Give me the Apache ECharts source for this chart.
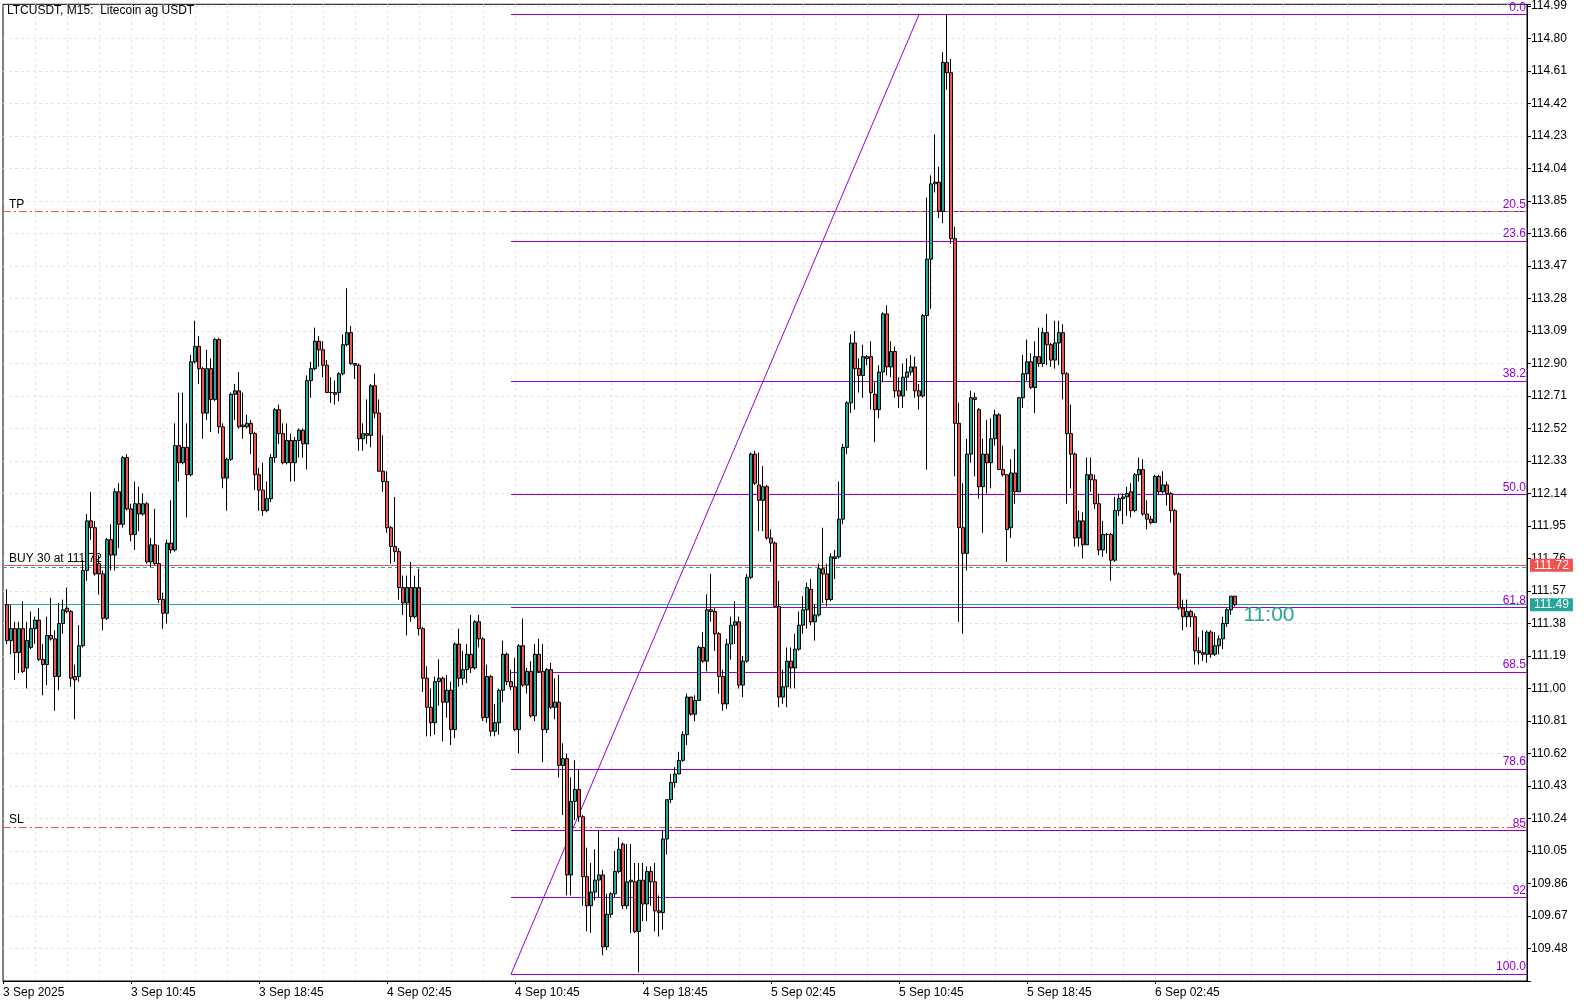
<!DOCTYPE html>
<html><head><meta charset="utf-8">
<script src="https://cdn.jsdelivr.net/npm/echarts@6/dist/echarts.min.js"></script>
<style>html,body{margin:0;padding:0;background:#fff}#c{width:1590px;height:1005px}</style>
</head><body><div id="c"></div>
<script>
// ---------------- data ----------------
const chartTitle = 'LTCUSDT, M15:  Litecoin ag USDT';

// 15-minute slots; slot 0 = 3 Sep 2025 02:45, first drawn candle in slot 1
const firstCandleSlot = 1;
const slotCount = 382;

// candles: [open, close, low, high]
const candles = [
[111.49,111.28,111.26,111.58],[111.28,111.35,111.20,111.49],[111.35,111.21,111.05,111.39],[111.21,111.35,111.09,111.39],
[111.35,111.10,111.09,111.51],[111.12,111.28,111.00,111.39],[111.24,111.35,111.23,111.45],[111.35,111.40,111.26,111.42],
[111.40,111.17,111.16,111.47],[111.17,111.14,110.96,111.26],[111.14,111.31,111.02,111.42],[111.31,111.29,111.28,111.53],
[111.29,111.07,110.87,111.34],[111.07,111.38,110.99,111.50],[111.38,111.46,111.32,111.52],[111.47,111.45,111.44,111.59],
[111.45,111.06,111.01,111.46],[111.07,111.05,110.82,111.14],[111.07,111.25,111.04,111.37],[111.25,111.69,111.24,111.75],
[111.69,111.98,111.63,112.02],[111.98,111.94,111.87,112.15],[111.94,111.67,111.66,111.98],[111.73,111.67,111.55,111.78],
[111.67,111.41,111.34,111.69],[111.41,111.87,111.40,111.88],[111.87,111.78,111.69,111.96],[111.78,112.15,111.69,112.17],
[112.15,111.96,111.82,112.20],[111.96,112.35,111.94,112.36],[112.35,112.05,112.04,112.37],[112.05,111.90,111.86,112.08],
[111.90,112.08,111.81,112.21],[112.08,112.02,111.92,112.18],[112.02,112.08,112.01,112.14],[112.08,111.74,111.73,112.09],
[111.74,111.84,111.71,111.88],[111.84,111.73,111.72,112.05],[111.73,111.52,111.50,111.84],[111.52,111.44,111.35,111.56],
[111.44,111.85,111.38,111.87],[111.85,111.81,111.79,112.10],[111.81,112.42,111.80,112.55],[112.42,112.32,112.21,112.73],
[112.32,112.41,112.31,112.73],[112.41,112.25,112.00,112.55],[112.25,112.91,112.24,112.95],[112.91,113.00,112.90,113.15],
[113.00,112.87,112.78,113.06],[112.87,112.61,112.46,112.88],[112.61,112.87,112.57,112.98],[112.87,112.69,112.50,112.93],
[112.69,113.04,112.68,113.05],[113.04,112.53,112.49,113.05],[112.53,112.23,112.17,112.55],[112.23,112.34,112.04,112.35],
[112.34,112.72,112.33,112.73],[112.72,112.74,112.57,112.78],[112.74,112.53,112.52,112.85],[112.54,112.53,112.46,112.73],
[112.53,112.55,112.52,112.60],[112.55,112.49,112.37,112.57],[112.49,112.25,112.16,112.50],[112.25,112.16,112.04,112.29],
[112.16,112.04,112.01,112.32],[112.04,112.11,112.03,112.21],[112.11,112.35,112.09,112.37],[112.35,112.63,112.32,112.64],
[112.63,112.49,112.43,112.66],[112.49,112.32,112.31,112.55],[112.32,112.45,112.31,112.55],[112.45,112.32,112.21,112.49],
[112.32,112.45,112.21,112.47],[112.45,112.51,112.35,112.52],[112.51,112.43,112.35,112.52],[112.43,112.80,112.28,112.83],
[112.80,112.87,112.70,112.91],[112.87,113.03,112.86,113.11],[113.03,112.98,112.88,113.06],[112.98,112.89,112.82,113.03],
[112.89,112.73,112.73,112.92],[112.73,112.73,112.67,112.82],[112.73,112.72,112.66,112.80],[112.73,112.84,112.68,112.85],
[112.84,113.01,112.83,113.07],[113.01,113.08,113.00,113.34],[113.08,112.90,112.89,113.12],[112.90,112.89,112.81,112.90],
[112.89,112.46,112.39,112.90],[112.46,112.49,112.39,112.55],[112.49,112.48,112.43,112.69],[112.48,112.77,112.41,112.78],
[112.77,112.61,112.58,112.84],[112.61,112.27,112.27,112.69],[112.27,112.21,112.15,112.48],[112.21,111.94,111.91,112.27],
[111.94,111.83,111.73,111.95],[111.83,111.80,111.74,112.12],[111.80,111.59,111.52,111.82],[111.59,111.50,111.43,111.66],
[111.50,111.59,111.31,111.66],[111.59,111.42,111.39,111.74],[111.42,111.59,111.41,111.66],[111.59,111.35,111.31,111.70],
[111.35,111.06,110.98,111.36],[111.06,110.89,110.72,111.13],[110.89,110.80,110.72,111.00],[110.80,111.04,110.73,111.07],
[111.04,111.06,110.90,111.17],[111.06,110.92,110.69,111.07],[110.92,110.99,110.83,111.08],[110.99,110.76,110.67,111.04],
[110.76,111.26,110.71,111.27],[111.26,111.06,111.01,111.35],[111.06,111.11,111.02,111.22],[111.11,111.20,111.03,111.26],
[111.20,111.12,111.09,111.43],[111.12,111.39,111.11,111.40],[111.39,111.29,111.24,111.43],[111.29,110.83,110.81,111.30],
[110.83,111.07,110.80,111.14],[111.07,110.75,110.72,111.08],[110.75,110.80,110.72,110.91],[110.80,110.99,110.73,111.00],
[110.99,111.20,110.92,111.28],[111.20,111.04,111.02,111.21],[111.04,111.01,110.99,111.11],[111.01,110.76,110.75,111.18],
[110.76,111.25,110.62,111.26],[111.25,111.02,111.01,111.41],[111.02,111.10,110.97,111.12],[111.10,110.84,110.83,111.16],
[110.84,111.20,110.81,111.26],[111.20,111.10,111.09,111.29],[111.10,110.76,110.57,111.26],[110.76,111.11,110.74,111.12],
[111.11,110.89,110.88,111.15],[110.89,110.92,110.82,111.06],[110.92,110.55,110.48,111.08],[110.55,110.59,110.26,110.68],
[110.59,109.91,109.79,110.62],[109.91,110.34,109.79,110.48],[110.34,110.41,110.23,110.58],[110.41,110.25,110.22,110.53],
[110.25,109.90,109.73,110.26],[109.90,109.73,109.58,110.07],[109.73,109.81,109.57,109.98],[109.81,109.88,109.76,110.06],
[109.88,109.91,109.78,110.17],[109.91,109.49,109.44,109.94],[109.49,109.68,109.47,109.80],[109.68,109.80,109.66,109.81],
[109.80,109.93,109.78,110.05],[109.93,110.06,109.92,110.13],[110.09,109.73,109.71,110.10],[109.73,109.87,109.71,110.09],
[109.88,109.87,109.57,110.09],[109.87,109.58,109.57,109.98],[109.58,109.88,109.34,109.98],[109.88,109.74,109.64,109.98],
[109.74,109.93,109.64,109.96],[109.93,109.87,109.73,109.96],[109.87,109.70,109.58,109.98],[109.70,109.69,109.55,109.79],
[109.69,110.12,109.59,110.17],[110.12,110.35,110.03,110.35],[110.35,110.45,110.33,110.50],[110.45,110.50,110.42,110.54],
[110.50,110.58,110.50,110.63],[110.58,110.73,110.57,110.75],[110.73,110.95,110.67,110.97],[110.95,110.85,110.84,110.95],
[110.85,110.93,110.81,110.96],[110.93,111.24,110.93,111.25],[111.24,111.16,111.15,111.33],[111.16,111.46,111.10,111.55],
[111.46,111.45,111.39,111.67],[111.45,111.32,111.22,111.47],[111.32,111.07,110.97,111.33],[111.07,110.91,110.87,111.11],
[110.91,111.26,110.88,111.29],[111.26,111.37,111.17,111.42],[111.37,111.39,111.26,111.51],[111.39,111.02,111.00,111.42],
[111.02,111.16,110.95,111.19],[111.16,111.65,111.15,111.67],[111.65,112.37,111.64,112.38],[112.37,112.20,112.19,112.39],
[112.19,112.10,111.92,112.38],[112.10,112.18,111.92,112.30],[112.18,111.88,111.87,112.19],[111.88,111.85,111.74,111.93],
[111.85,111.48,111.47,111.86],[111.48,110.95,110.89,111.63],[110.95,111.01,110.91,111.11],[111.01,111.16,110.89,111.24],
[111.16,111.12,111.00,111.24],[111.12,111.23,111.00,111.32],[111.23,111.37,111.22,111.45],[111.37,111.46,111.32,111.54],
[111.46,111.59,111.35,111.62],[111.58,111.39,111.37,111.64],[111.39,111.43,111.28,111.49],[111.43,111.70,111.42,111.73],
[111.70,111.67,111.50,111.94],[111.67,111.52,111.48,111.73],[111.52,111.77,111.51,111.79],[111.76,111.77,111.64,111.81],
[111.77,111.99,111.76,112.21],[111.99,112.41,111.96,112.43],[112.41,112.67,112.37,112.68],[112.67,113.02,112.61,113.07],
[113.02,112.87,112.63,113.09],[112.87,112.83,112.73,112.93],[112.83,112.94,112.70,113.01],[112.94,112.93,112.89,112.95],
[112.94,112.73,112.63,113.03],[112.72,112.63,112.44,112.79],[112.63,112.85,112.58,112.89],[112.85,113.19,112.79,113.20],
[113.19,112.88,112.83,113.24],[112.88,112.97,112.82,113.03],[112.97,112.74,112.70,113.00],[112.74,112.71,112.64,112.82],
[112.71,112.82,112.64,112.90],[112.82,112.85,112.74,112.93],[112.85,112.88,112.83,112.95],[112.88,112.74,112.70,112.94],
[112.74,112.71,112.63,112.78],[112.71,113.18,112.70,113.19],[113.18,113.51,112.28,113.87],[113.51,113.95,113.22,114.00],
[113.95,113.96,113.90,114.24],[113.96,113.79,113.75,114.05],[113.79,114.66,113.72,114.72],[114.66,114.60,114.50,114.94],
[114.60,113.63,113.60,114.68],[113.63,112.55,112.24,113.70],[112.55,111.94,111.39,112.67],[111.94,111.79,111.32,112.20],
[111.79,112.37,111.69,112.46],[112.37,112.70,112.32,112.74],[112.70,112.69,112.24,112.73],[112.63,112.18,112.11,112.64],
[112.18,112.37,111.91,112.46],[112.37,112.32,112.14,112.57],[112.32,112.46,112.17,112.58],[112.46,112.60,112.42,112.63],
[112.60,112.28,112.28,112.61],[112.28,112.25,112.24,112.42],[112.25,111.93,111.74,112.25],[111.94,112.26,111.88,112.34],
[112.26,112.15,112.08,112.40],[112.15,112.70,112.15,112.70],[112.70,112.84,112.64,112.95],[112.84,112.91,112.80,113.04],
[112.91,112.76,112.75,112.96],[112.76,112.94,112.61,113.03],[112.94,112.90,112.88,113.11],[112.90,113.08,112.88,113.11],
[113.08,113.01,112.89,113.19],[113.01,112.92,112.88,113.02],[112.92,113.02,112.87,113.15],[113.02,113.08,112.89,113.15],
[113.08,112.84,112.69,113.13],[112.84,112.49,112.08,112.85],[112.49,112.37,112.17,112.66],[112.37,111.88,111.83,112.38],
[111.88,111.98,111.83,112.04],[111.98,111.84,111.76,112.03],[111.84,112.25,111.84,112.35],[112.25,112.22,112.15,112.35],
[112.22,112.08,112.05,112.25],[112.08,111.81,111.78,112.14],[111.81,111.90,111.77,111.98],[111.90,111.90,111.79,111.91],
[111.90,111.75,111.63,111.91],[111.75,112.04,111.74,112.12],[112.04,112.11,112.01,112.14],[112.11,112.12,111.96,112.14],
[112.12,112.14,112.01,112.18],[112.15,112.04,112.00,112.20],[112.04,112.25,112.03,112.26],[112.25,112.28,112.21,112.35],
[112.28,112.02,112.01,112.34],[112.02,111.99,111.93,112.10],[111.99,111.97,111.96,112.01],[111.97,112.24,111.97,112.25],
[112.24,112.15,112.13,112.25],[112.15,112.19,112.14,112.27],[112.19,112.14,112.07,112.21],[112.14,112.04,111.97,112.15],
[112.04,111.67,111.66,112.05],[111.67,111.47,111.46,111.68],[111.47,111.42,111.34,111.52],[111.42,111.45,111.36,111.52],
[111.45,111.42,111.36,111.46],[111.42,111.22,111.14,111.44],[111.22,111.21,111.14,111.30],[111.21,111.20,111.16,111.34],
[111.20,111.33,111.15,111.34],[111.33,111.20,111.18,111.34],[111.20,111.25,111.19,111.33],[111.25,111.29,111.20,111.31],
[111.29,111.38,111.23,111.42],[111.38,111.46,111.36,111.47],[111.46,111.54,111.43,111.54],[111.54,111.49,111.48,111.54]
];

// x tick labels, one every 32 slots (8 hours)
const xTickLabels = ['3 Sep 2025','3 Sep 10:45','3 Sep 18:45','4 Sep 02:45','4 Sep 10:45','4 Sep 18:45','5 Sep 02:45','5 Sep 10:45','5 Sep 18:45','6 Sep 02:45'];
const xLabelEvery = 32;
const xGridEvery = 8;

// y tick labels (price scale)
const yTickLabels = ['109.48','109.67','109.86','110.05','110.24','110.43','110.62','110.81','111.00','111.19',
  '111.38','111.57','111.76','111.95','112.14','112.33','112.52','112.71','112.90','113.09',
  '113.28','113.47','113.66','113.85','114.04','114.23','114.42','114.61','114.80','114.99'];
const yTickBase = 109.48, yTickStep = 0.19;
const yMin = 109.29, yMax = 115.00;

// Fibonacci retracement
const fibHigh = 114.94, fibLow = 109.33;
const fibStartSlot = 127, fibTopSlot = 229;
const fibLevels = [0, 20.5, 23.6, 38.2, 50, 61.8, 68.5, 78.6, 85, 92, 100];
const fibLabels = ['0.0','20.5','23.6','38.2','50.0','61.8','68.5','78.6','85','92','100.0'];

// trade / price lines
const tpPrice = 113.79, slPrice = 110.19;
const askPrice = 111.72, bidPrice = 111.49, buyPrice = 111.71;
const buyLabel = 'BUY 30 at 111.72';
const timerText = '11:00';
const timerSlot = 310, timerPrice = 111.43;

// ---------------- chart ----------------
const UP = '#26a69a', DOWN = '#ef5350', FIB = '#9400d3', GRIDC = '#e4e4e4';
const FONT = 'Liberation Sans';
const FS = 12;
const lastSlot = slotCount - 1;

const cats = Array.from({length: slotCount}, (_, i) => String(i));
const candleData = candles.map((c, i) => [i + firstCandleSlot, c[0], c[1], c[2], c[3]]);

const fibMark = fibLevels.map((lv, i) => {
  const p = fibHigh - (fibHigh - fibLow) * lv / 100;
  return [
    {coord: [fibStartSlot, p], label: {show: true, formatter: fibLabels[i], position: 'insideEndTop', color: FIB,
      fontFamily: FONT, fontSize: FS, distance: [1, 1]}},
    {coord: [lastSlot, p]}
  ];
});
fibMark.push([{coord: [fibStartSlot, fibLow], label: {show: false}}, {coord: [fibTopSlot, fibHigh]}]);

const chart = echarts.init(document.getElementById('c'), null, {renderer: 'canvas'});
chart.setOption({
  animation: false,
  backgroundColor: '#ffffff',
  title: {text: chartTitle, left: 7, top: 5, padding: 0,
    textStyle: {fontFamily: FONT, fontSize: FS, fontWeight: 'normal', color: '#000'}},
  grid: {left: 3, top: 3, right: 63, bottom: 24, show: true, borderColor: '#000', borderWidth: 1, containLabel: false},
  xAxis: [{
    type: 'category', data: cats, boundaryGap: false,
    axisLine: {show: true, onZero: false, lineStyle: {color: '#000', width: 1}},
    axisTick: {show: true, length: 3, lineStyle: {color: '#000'},
      interval: (i) => i % xLabelEvery === 0 && i / xLabelEvery < xTickLabels.length},
    axisLabel: {show: true, interval: (i) => i % xLabelEvery === 0 && i / xLabelEvery < xTickLabels.length,
      formatter: (v, i) => (i % xLabelEvery === 0 ? (xTickLabels[i / xLabelEvery] || '') : ''),
      align: 'left', margin: 6, color: '#000', fontFamily: FONT, fontSize: FS, padding: [0, 0, 0, 0]},
    splitLine: {show: true, interval: (i) => i > 0 && i % xGridEvery === 0,
      lineStyle: {color: GRIDC, type: [3, 3], width: 1}}
  }],
  yAxis: [{
    type: 'value', min: yMin, max: yMax, show: false, scale: true, splitLine: {show: false}
  }, {
    type: 'value', position: 'right',
    min: (yMin - yTickBase) / yTickStep, max: (yMax - yTickBase) / yTickStep, interval: 1,
    axisLine: {show: true, onZero: false, lineStyle: {color: '#000'}},
    axisTick: {show: true, length: 4, lineStyle: {color: '#000'}},
    axisLabel: {show: true, margin: 4, color: '#000', fontFamily: FONT, fontSize: FS,
      formatter: (v) => { const k = Math.round(v); return (Math.abs(v - k) < 1e-6 && k >= 0 && k < yTickLabels.length) ? yTickLabels[k] : ''; }},
    splitLine: {show: true, showMinLine: false, showMaxLine: false, lineStyle: {color: GRIDC, type: [3, 3], width: 1}}
  }],
  series: [
    {
      type: 'line', name: 'fib', xAxisIndex: 0, yAxisIndex: 0, data: [], z: 3, silent: true,
      markLine: {silent: true, symbol: ['none', 'none'], animation: false,
        lineStyle: {color: FIB, width: 1, type: 'solid'}, label: {show: false}, data: fibMark}
    },
    {
      type: 'line', name: 'tpsl', xAxisIndex: 0, yAxisIndex: 0, data: [], z: 3, silent: true,
      markLine: {silent: true, symbol: ['none', 'none'], animation: false,
        lineStyle: {color: DOWN, width: 1, type: [8, 3, 2, 3]},
        data: [
          {yAxis: tpPrice, label: {show: true, formatter: 'TP', position: 'insideStartTop', color: '#000', fontFamily: FONT, fontSize: FS, distance: [6, 1]}},
          {yAxis: slPrice, label: {show: true, formatter: 'SL', position: 'insideStartTop', color: '#000', fontFamily: FONT, fontSize: FS, distance: [6, 1]}}
        ]}
    },
    {
      type: 'line', name: 'buy', xAxisIndex: 0, yAxisIndex: 0, data: [], z: 2, silent: true,
      markLine: {silent: true, symbol: ['none', 'none'], animation: false,
        lineStyle: {color: UP, width: 1, type: [4, 3]},
        data: [{yAxis: buyPrice, label: {show: true, formatter: buyLabel, position: 'insideStartTop', color: '#000', fontFamily: FONT, fontSize: FS, distance: [6, 2]}}]}
    },
    {
      type: 'line', name: 'ask', xAxisIndex: 0, yAxisIndex: 0, data: [], z: 4, silent: true,
      markLine: {silent: true, symbol: ['none', 'none'], animation: false,
        lineStyle: {color: DOWN, width: 1, type: 'solid'},
        data: [{yAxis: askPrice, label: {show: true, formatter: askPrice.toFixed(2), position: 'end', distance: 3,
          color: '#fff', backgroundColor: DOWN, padding: [1, 4, 0, 4], fontFamily: FONT, fontSize: FS}}]}
    },
    {
      type: 'line', name: 'bid', xAxisIndex: 0, yAxisIndex: 0, data: [], z: 4, silent: true,
      markLine: {silent: true, symbol: ['none', 'none'], animation: false,
        lineStyle: {color: UP, width: 1, type: 'solid'},
        data: [{yAxis: bidPrice, label: {show: true, formatter: bidPrice.toFixed(2), position: 'end', distance: 3,
          color: '#fff', backgroundColor: UP, padding: [1, 4, 0, 4], fontFamily: FONT, fontSize: FS}}]},
      markPoint: {silent: true, animation: false, symbol: 'circle', symbolSize: 1, itemStyle: {color: 'rgba(0,0,0,0)'},
        data: [{coord: [timerSlot, timerPrice], label: {show: true, formatter: timerText, position: 'right', distance: 0,
          color: UP, fontFamily: 'Liberation Sans', fontSize: 21}}]}
    },
    {
      type: 'candlestick', name: 'LTCUSDT', xAxisIndex: 0, yAxisIndex: 0, z: 10,
      data: candleData, encode: {x: 0, y: [1, 2, 3, 4]},
      barWidth: 3,
      itemStyle: {color: UP, color0: DOWN, borderColor: '#000', borderColor0: '#000', borderColorDoji: '#000', borderWidth: 1}
    }
  ]
});
</script>
</body></html>
